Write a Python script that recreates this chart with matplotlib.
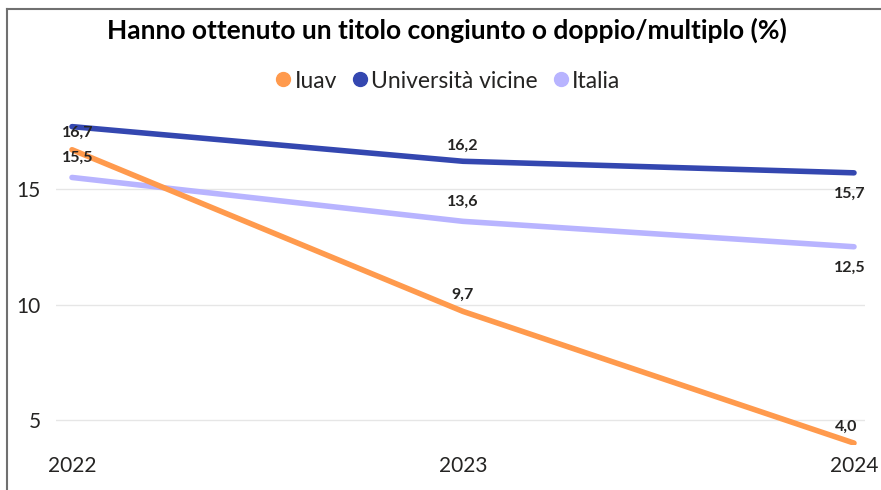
import matplotlib
matplotlib.use("Agg")
import matplotlib.pyplot as plt
from matplotlib.lines import Line2D

plt.rcParams['font.family'] = ['Lato', 'DejaVu Sans']

years = [2022, 2023, 2024]
year_labels = ["2022", "2023", "2024"]
iuav = [16.7, 9.7, 4.0]
vicine = [17.7, 16.2, 15.7]
italia = [15.5, 13.6, 12.5]
series_names = ["Iuav", "Università vicine", "Italia"]
colors = ["#FF9A4D", "#3447B0", "#B8B4FF"]
yticks = [5, 10, 15]

fig = plt.figure(figsize=(8.81, 4.90), dpi=100)
ax = fig.add_axes([56/881, 1 - 445/490, (865-56)/881, (445-110)/490])

ax.plot(years, italia, color=colors[2], lw=4.0, solid_capstyle='round', zorder=3)
ax.plot(years, vicine, color=colors[1], lw=4.0, solid_capstyle='round', zorder=3)
ax.plot(years, iuav, color=colors[0], lw=4.0, solid_capstyle='round', zorder=4)

ax.set_xlim(2022 - 16/391, 2024 + 11/391)
ax.set_ylim(15 - (445-189)/23.1, 15 + (189-110)/23.1)
ax.set_yticks(yticks)
ax.set_yticklabels([str(t) for t in yticks])
ax.set_xticks(years)
ax.set_xticklabels(year_labels)
ax.tick_params(axis='both', length=0, labelsize=15, colors='#252423')
ax.tick_params(axis='y', pad=11)
ax.tick_params(axis='x', pad=8)
ax.grid(axis='y', color='#E6E6E6', lw=1)
ax.set_axisbelow(True)
for s in ax.spines.values():
    s.set_visible(False)

def fmt(v):
    return f"{v:.1f}".replace('.', ',')

lab_kw = dict(textcoords='offset points', ha='center', va='center',
              fontsize=11.5, fontweight='bold', color='#252423', zorder=6)
for x, v in zip(years, iuav):
    dx = 4 if x == 2022 else (-6 if x == 2024 else 0)
    ax.annotate(fmt(v), (x, v), xytext=(dx, 12), **lab_kw)
for x, v in zip(years, italia):
    if x == 2024:
        ax.annotate(fmt(v), (x, v), xytext=(-3, -15), **lab_kw)
    else:
        dx = 4 if x == 2022 else 0
        ax.annotate(fmt(v), (x, v), xytext=(dx, 14), **lab_kw)
for x, v in zip(years, vicine):
    if x == 2022:
        continue
    if x == 2024:
        ax.annotate(fmt(v), (x, v), xytext=(-3, -15), **lab_kw)
    else:
        ax.annotate(fmt(v), (x, v), xytext=(0, 11), **lab_kw)

fig.text(447/881, 1 - 30/490, "Hanno ottenuto un titolo congiunto o doppio/multiplo (%)",
         ha='center', va='center', fontsize=19, fontweight='bold', color='#000000')

handles = [Line2D([], [], marker='o', linestyle='none', markersize=10,
                  markerfacecolor=c, markeredgecolor=c) for c in colors]
fig.legend(handles, series_names, loc='center', bbox_to_anchor=(446/881, 1 - 81/490),
           ncol=3, frameon=False, fontsize=16.5, handletextpad=0.0, columnspacing=0.5,
           handlelength=1.0, labelcolor='#252423')

fig.add_artist(Line2D([7/881, 7/881], [0, 1 - 9/490], color='#707070', lw=1.5,
                      transform=fig.transFigure))
fig.add_artist(Line2D([7/881, 1], [1 - 9/490, 1 - 9/490], color='#707070', lw=1.5,
                      transform=fig.transFigure))

fig.savefig("out.png", dpi=100)
